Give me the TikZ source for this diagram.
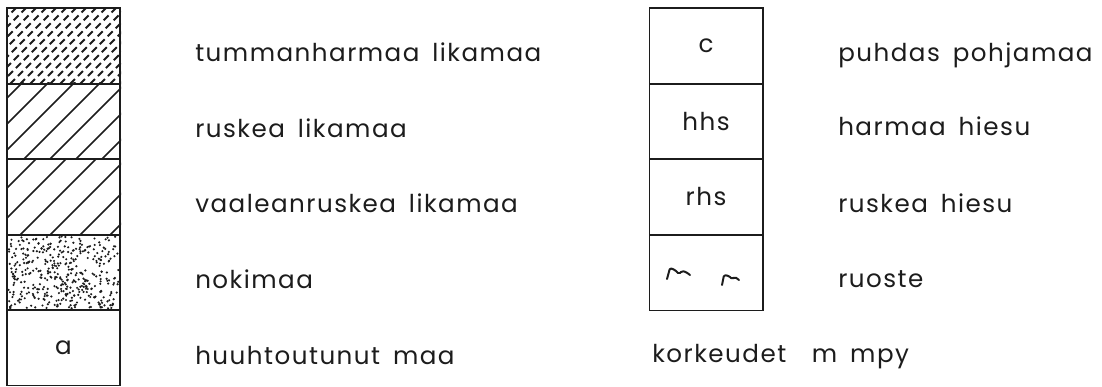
\documentclass[tikz,border=0pt]{standalone}
\usepackage{fontspec}
\setmainfont{Poppins}[LetterSpace=6, WordSpace=1.6]
\usetikzlibrary{positioning, calc}
\definecolor{Ink}{HTML}{1C1C1C}
\tikzset{
    layer/.style={rectangle, draw=Ink, line width=1.4pt, minimum width=2.825cm, minimum height=1.9cm, inner sep=0pt, text=Ink, font=\fontsize{17.5}{17.5}\selectfont},
    legtext/.style={anchor=base west, inner sep=0pt, text=Ink, font=\fontsize{17.5}{17.5}\selectfont},
    hatch/.style={Ink, line width=1.1pt},
    dashhatch/.style={Ink, line width=1.4pt, dash pattern=on 5pt off 3pt},
    rust/.style={Ink, line width=1.4pt, line cap=round, line join=round, rounded corners=1pt},
}

\begin{document}
\begin{tikzpicture}[x=0.025cm, y=-0.025cm]
    \useasboundingbox (0,0) rectangle (1102,387);
    % left column
    \node[layer] (tumma)  at (63.5,46)    {};
    \node[layer] (ruskea) at (63.5,121.5) {};
    \node[layer] (vaalea) at (63.5,197)   {};
    \node[layer] (noki)   at (63.5,272.5) {};
    \node[layer] (huuhto) at (63.5,347.5) {a};
    % fills
    \begin{scope}
        \clip (tumma.south west) rectangle (tumma.north east);
        \foreach \x in {-80,-70,...,120} \draw[dashhatch] (\x,84) -- (\x+80,4);
    \end{scope}
    \begin{scope}
        \clip (ruskea.south west) rectangle (ruskea.north east);
        \foreach \x in {-80,-54,...,130} \draw[hatch] (\x,159) -- (\x+78,81);
    \end{scope}
    \begin{scope}
        \clip (vaalea.south west) rectangle (vaalea.north east);
        \foreach \x in {-70,-40,...,130} \draw[hatch] (\x,235) -- (\x+78,157);
    \end{scope}
    \begin{scope}
        \clip (noki.south west) rectangle (noki.north east);
        \pgfmathsetseed{42}
        \foreach \i in {1,...,420} \fill[Ink] (63.5+55*rand,272.5+36*rand) circle (0.85pt);
    \end{scope}
    \node[legtext] (t1) at (195,62)  {tummanharmaa likamaa};
    \node[legtext] (t2) at (195,137) {ruskea likamaa};
    \node[legtext] (t3) at (195,212) {vaaleanruskea likamaa};
    \node[legtext] (t4) at (195,288) {nokimaa};
    \node[legtext] (t5) at (195,364) {huuhtoutunut maa};
    % right column
    \node[layer] (puhdas) at (706,46)    {c};
    \node[layer] (hhs)    at (706,121.5) {hhs};
    \node[layer] (rhs)    at (706,197)   {rhs};
    \node[layer] (ruoste) at (706,272.5) {};
    \draw[rust] (667,279) -- (670,268) -- (675,270) -- (679,274) -- (682,271) -- (686,272) -- (690,275);
    \draw[rust] (722,285) -- (724,275) -- (729,276) -- (732,279) -- (735,277) -- (739,280);
    \node[legtext] (u1) at (838,62)  {puhdas pohjamaa};
    \node[legtext] (u2) at (838,135) {harmaa hiesu};
    \node[legtext] (u3) at (838,212) {ruskea hiesu};
    \node[legtext] (u4) at (838,287) {ruoste};
    \node[legtext] (u5) at (652,362) {korkeudet\ \ m mpy};
\end{tikzpicture}
\end{document}
